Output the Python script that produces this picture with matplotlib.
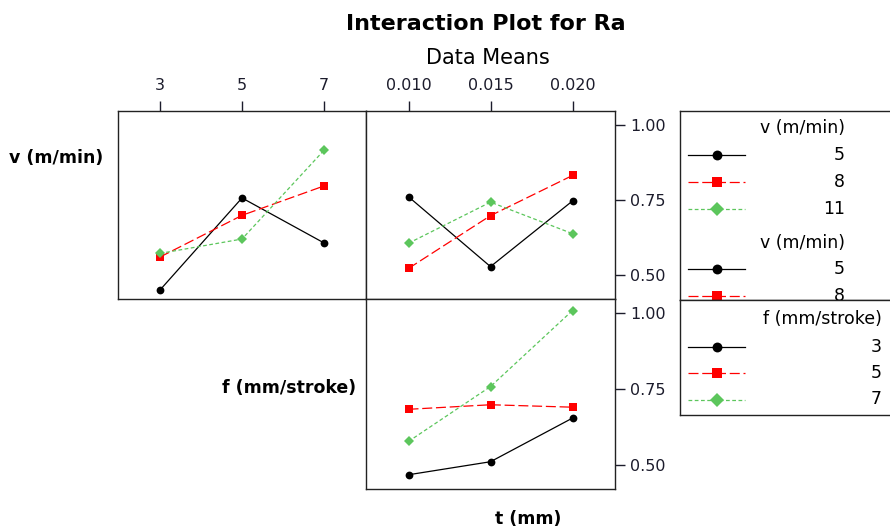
import numpy as np
import matplotlib
matplotlib.use("Agg")
import matplotlib.pyplot as plt
from matplotlib.lines import Line2D

# ---- data (Ra means) ----
f_levels = [3, 5, 7]
t_levels = [0.010, 0.015, 0.020]
v_levels = [5, 8, 11]

# v rows vs f (top-left panel)
ra_v_by_f = [
    [0.450, 0.757, 0.607],   # v = 5
    [0.560, 0.699, 0.797],   # v = 8
    [0.572, 0.620, 0.916],   # v = 11
]
# v rows vs t (top-right panel)
ra_v_by_t = [
    [0.761, 0.528, 0.747],
    [0.522, 0.698, 0.832],
    [0.606, 0.743, 0.638],
]
# f rows vs t (bottom-right panel)
ra_f_by_t = [
    [0.467, 0.510, 0.654],   # f = 3
    [0.683, 0.698, 0.690],   # f = 5
    [0.577, 0.758, 1.009],   # f = 7
]
y_ticks = [0.50, 0.75, 1.00]

# ---- styles ----
GREEN = "#5cc65c"
styles = [
    dict(color="black", marker="o", ms=5.6, ls="-", lw=0.9),
    dict(color="red", marker="s", ms=5.6, ls=(0, (8, 3)), lw=0.9),
    dict(color=GREEN, marker="D", ms=5.2, ls=(0, (3, 2)), lw=0.9),
]

W, H = 890, 529
fig = plt.figure(figsize=(W / 100, H / 100), dpi=100)
plt.rcParams["font.family"] = "DejaVu Sans"


def px_axes(x0, y0, x1, y1):
    # axes placed in pixel coordinates (top-left origin)
    return fig.add_axes([x0 / W, 1 - y1 / H, (x1 - x0) / W, (y1 - y0) / H])


ax1 = px_axes(118, 111, 366, 299)
ax2 = px_axes(366, 111, 615, 299)
ax3 = px_axes(366, 299, 615, 489)

ylim = (0.42, 1.047)
f_pad = 42 / 41
t_pad = 0.005 * 42.5 / 82

for rows, xs, ax in [(ra_v_by_f, f_levels, ax1),
                     (ra_v_by_t, t_levels, ax2),
                     (ra_f_by_t, t_levels, ax3)]:
    for vals, st in zip(rows, styles):
        ax.plot(xs, vals, color=st["color"], marker=st["marker"],
                markersize=st["ms"], linestyle=st["ls"], linewidth=st["lw"],
                markeredgewidth=0, clip_on=False)
    ax.set_ylim(*ylim)
    for sp in ax.spines.values():
        sp.set_linewidth(1.0)
        sp.set_color("#222222")

ax1.set_xlim(f_levels[0] - f_pad, f_levels[-1] + f_pad)
ax2.set_xlim(t_levels[0] - t_pad, t_levels[-1] + t_pad)
ax3.set_xlim(t_levels[0] - t_pad, t_levels[-1] + t_pad)

tick_kw = dict(direction="out", length=7, width=1.0, labelsize=11.5,
               colors="#1c1c2c")
for ax in (ax1, ax2, ax3):
    ax.tick_params(axis="both", which="both", bottom=False, left=False,
                   top=False, right=False, labelbottom=False, labelleft=False)

ax1.set_xticks(f_levels)
ax1.set_xticklabels([str(v) for v in f_levels])
ax1.set_yticks([])
ax1.tick_params(axis="x", top=True, labeltop=True, pad=6, **tick_kw)

ax2.set_xticks(t_levels)
ax2.set_xticklabels([f"{v:.3f}" for v in t_levels])
ax2.tick_params(axis="x", top=True, labeltop=True, pad=6, **tick_kw)
ax2.set_yticks(y_ticks)
ax2.set_yticklabels([f"{v:.2f}" for v in y_ticks])
ax2.tick_params(axis="y", right=True, labelright=True, pad=4, **tick_kw)

ax3.set_xticks([])
ax3.set_yticks(y_ticks)
ax3.set_yticklabels([f"{v:.2f}" for v in y_ticks])
ax3.tick_params(axis="y", right=True, labelright=True, pad=4, **tick_kw)

# ---- titles and factor labels ----
fig.text(486 / W, 1 - 24 / H, "Interaction Plot for Ra", ha="center",
         va="center", fontsize=16, fontweight="bold")
fig.text(488 / W, 1 - 58 / H, "Data Means", ha="center", va="center",
         fontsize=15)
fig.text(9 / W, 1 - 158 / H, "v (m/min)", ha="left", va="center",
         fontsize=12.5, fontweight="bold")
fig.text(356 / W, 1 - 388 / H, "f (mm/stroke)", ha="right", va="center",
         fontsize=12.5, fontweight="bold")
fig.text(528 / W, 1 - 519 / H, "t (mm)", ha="center", va="center",
         fontsize=12.5, fontweight="bold")

# ---- legend panels ----
def legend_box(y0, y1, groups):
    lax = px_axes(680, y0, 905, y1)
    lax.set_xlim(680, 905)
    lax.set_ylim(y1, y0)
    lax.set_xticks([])
    lax.set_yticks([])
    for sp in lax.spines.values():
        sp.set_linewidth(1.0)
        sp.set_color("#222222")
    for title, labels, ty, rows_y, x_right in groups:
        lax.text(x_right, ty, title, ha="right", va="center", fontsize=12.5,
                 clip_on=True)
        for lab, st, ry in zip(labels, styles, rows_y):
            lax.add_line(Line2D([688, 745], [ry, ry], color=st["color"],
                                linestyle=st["ls"], linewidth=st["lw"],
                                clip_on=True))
            lax.plot([716.7], [ry], marker=st["marker"], color=st["color"],
                     markersize=st["ms"] + 1.5, markeredgewidth=0,
                     clip_on=True)
            lax.text(x_right, ry, str(lab), ha="right", va="center",
                     fontsize=12.5, clip_on=True)
    return lax


legend_box(111, 300, [
    ("v (m/min)", v_levels, 128, [155, 182, 209], 845),
    ("v (m/min)", v_levels[:2], 243, [269, 296], 845),
])
legend_box(300, 415, [
    ("f (mm/stroke)", f_levels, 319, [346.5, 373, 399.5], 882),
])

fig.savefig("out.png", dpi=100)
